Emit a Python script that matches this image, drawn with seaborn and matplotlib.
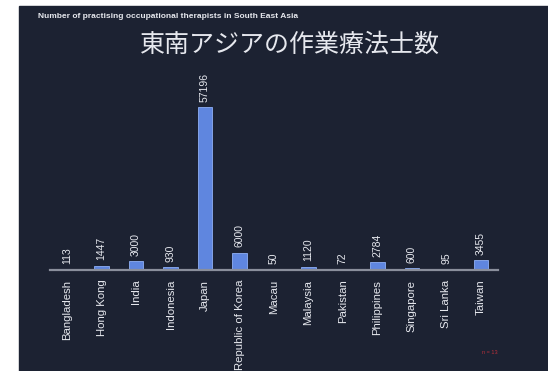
import matplotlib
matplotlib.use("Agg")
import matplotlib.pyplot as plt
import matplotlib.patches as mpatches
import seaborn as sns
import pandas as pd

# Data
countries = ["Bangladesh", "Hong Kong", "India", "Indonesia", "Japan",
             "Republic of Korea", "Macau", "Malaysia", "Pakistan",
             "Philippines", "Singapore", "Sri Lanka", "Taiwan"]
therapists = [113, 1447, 3000, 930, 57196, 6000, 50, 1120, 72, 2784, 600,
              95, 3455]
value_labels = ["113", "1447", "3000", "930", "57196", "6000", "50", "1120",
                "72", "2784", "600", "95", "3455"]

title_en = "Number of practising occupational therapists in South East Asia"
title_jp = "東南アジアの作業療法士数"

bg_color = "#1c2232"
bar_color = "#5f86df"
text_color = "#e6e8ee"

sns.set_style("dark")
plt.rcParams["font.family"] = ["Liberation Sans", "DejaVu Sans"]

df = pd.DataFrame({"Country": countries, "Therapists": therapists})

fig = plt.figure(figsize=(5.48, 3.71), dpi=100)
fig.patch.set_facecolor("white")

# dark slide area (photo of a slide with a white margin top/left)
slide = mpatches.Rectangle((19 / 548, 0), 1 - 19 / 548, 1 - 6 / 371,
                           transform=fig.transFigure, color=bg_color,
                           zorder=-5)
fig.patches.append(slide)

ax = fig.add_axes([50 / 548, 101 / 371, 448 / 548, 185 / 371])
ax.set_zorder(2)
ax.set_facecolor("none")
sns.barplot(data=df, x="Country", y="Therapists", color=bar_color,
            width=0.42, saturation=1, edgecolor="#8fb0f5", linewidth=0.6,
            ax=ax)
ax.set_ylim(0, 65000)
ax.set_xlim(-0.5, len(countries) - 0.5)
ax.bar_label(ax.containers[0], labels=value_labels, rotation=90,
             padding=4, color=text_color, fontsize=7.5)

ax.set_xlabel("")
ax.set_ylabel("")
ax.set_yticks([])
ax.tick_params(axis="x", length=0, pad=7, labelsize=8.2,
               labelcolor=text_color, rotation=90)
for s in ["top", "right", "left"]:
    ax.spines[s].set_visible(False)
ax.spines["bottom"].set_color("#8a8f9c")
ax.spines["bottom"].set_linewidth(1.6)
ax.grid(False)

fig.text(38 / 548, 1 - 17 / 371, title_en, color=text_color, fontsize=6,
         fontweight="bold", va="center", ha="left")
fig.text(290 / 548, 1 - 45 / 371, title_jp, color=text_color, fontsize=18,
         va="center", ha="center",
         family=["Noto Sans CJK JP", "DejaVu Sans"])
fig.text(490 / 548, 1 - 352 / 371, "n = 13", color="#b8303a", fontsize=4,
         va="center", ha="center")

fig.savefig("out.png", dpi=100, facecolor=fig.get_facecolor())
